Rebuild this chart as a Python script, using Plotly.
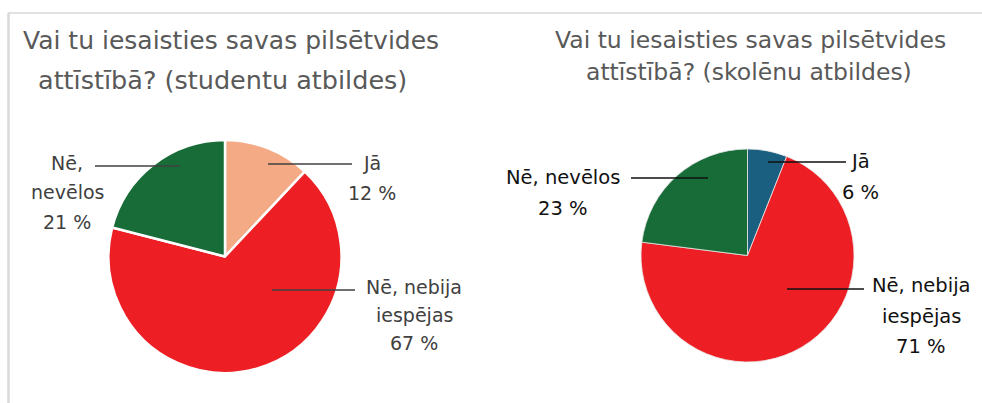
import plotly.graph_objects as go

# ---- data ----
categories = ["Jā", "Nē, nebija iespējas", "Nē, nevēlos"]
students_values = [12, 67, 21]
pupils_values = [6, 71, 23]
left_title_lines = ["Vai tu iesaisties savas pilsētvides", "attīstībā? (studentu atbildes)"]
right_title_lines = ["Vai tu iesaisties savas pilsētvides", "attīstībā? (skolēnu atbildes)"]
left_colors = ["#F3AA85", "#ED1F24", "#176C38"]
right_colors = ["#1A5E80", "#ED1F24", "#176C38"]

W, H = 982, 403


def X(px):
    return px / W


def Y(py):
    return 1 - py / H


fig = go.Figure()

# pies (domains in pixels -> paper)
fig.add_trace(go.Pie(
    labels=categories, values=students_values, sort=False, direction="clockwise",
    rotation=0, textinfo="none", hoverinfo="label+percent",
    marker=dict(colors=left_colors, line=dict(color="white", width=2.5)),
    domain=dict(x=[X(108.5), X(341.5)], y=[Y(373), Y(140)]), showlegend=False,
))
fig.add_trace(go.Pie(
    labels=categories, values=pupils_values, sort=False, direction="clockwise",
    rotation=0, textinfo="none", hoverinfo="label+percent",
    marker=dict(colors=right_colors, line=dict(color="#e8e8e8", width=0.8)),
    domain=dict(x=[X(641), X(854)], y=[Y(362), Y(149)]), showlegend=False,
))

annotations = []
shapes = []

FONT = "'DejaVu Sans', sans-serif"


def add_text(text, cx, cy, size, color):
    annotations.append(dict(
        text=text, x=X(cx), y=Y(cy), xref="paper", yref="paper",
        xanchor="center", yanchor="middle", showarrow=False,
        font=dict(family=FONT, size=size, color=color),
    ))


# titles
add_text(left_title_lines[0], 231, 40, 25, "#595959")
add_text(left_title_lines[1], 222, 80, 25.5, "#595959")
add_text(right_title_lines[0], 750, 40, 23.5, "#595959")
add_text(right_title_lines[1], 749, 72, 23.5, "#595959")


def label_lines(val, split):
    return split + [f"{val} %"]


# (line texts, center x, y of each line, leader line (x0, x1, y))
left_labels = [
    (label_lines(students_values[0], ["Jā"]), 372, [163, 193], (268, 352, 164)),
    (label_lines(students_values[1], ["Nē, nebija", "iespējas"]), 414, [287, 315, 343], (272, 355, 290)),
    (label_lines(students_values[2], ["Nē,", "nevēlos"]), 67, [163, 192, 222], (95, 180, 166)),
]
right_labels = [
    (label_lines(pupils_values[0], ["Jā"]), 860, [161, 192], (768, 846, 162)),
    (label_lines(pupils_values[1], ["Nē, nebija", "iespējas"]), 921, [285, 316, 346], (787, 864, 289)),
    (label_lines(pupils_values[2], ["Nē, nevēlos"]), 563, [177, 208], (631, 708, 178)),
]

for labels, color, size in ((left_labels, "#404040", 19), (right_labels, "#111111", 19.5)):
    for lines, cx, ys, (x0, x1, ly) in labels:
        for t, yy in zip(lines, ys):
            add_text(t, cx, yy, size, color)
        shapes.append(dict(type="line", xref="paper", yref="paper",
                           x0=X(x0), x1=X(x1), y0=Y(ly), y1=Y(ly),
                           line=dict(color=color, width=1.3)))

# chart-area borders
shapes.append(dict(type="line", xref="paper", yref="paper", x0=X(8), x1=X(990),
                   y0=Y(13), y1=Y(13), line=dict(color="#d9d9d9", width=1.5)))
shapes.append(dict(type="line", xref="paper", yref="paper", x0=X(8.5), x1=X(8.5),
                   y0=Y(13), y1=Y(403), line=dict(color="#d9d9d9", width=2.5)))

fig.update_layout(
    width=W, height=H, margin=dict(l=0, r=0, t=0, b=0),
    paper_bgcolor="white", plot_bgcolor="white",
    annotations=annotations, shapes=shapes, showlegend=False,
)

fig.write_html(
    "out.html",
    config={"displayModeBar": False},
    post_script=(
        "document.documentElement.style.overflow='hidden';"
        "document.body.style.overflow='hidden';"
        "document.body.style.margin='0';"
    ),
)
